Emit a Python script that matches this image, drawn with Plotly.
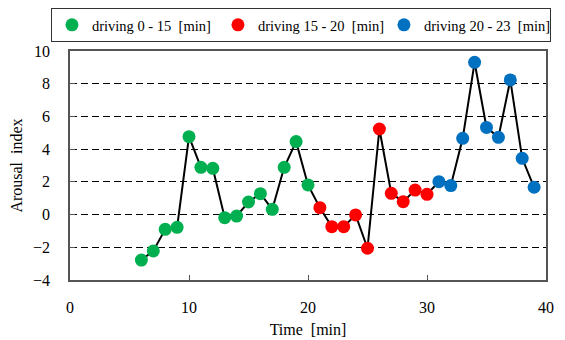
import plotly.graph_objects as go

time_green = [6, 7, 8, 9, 10, 11, 12, 13, 14, 15, 16, 17, 18, 19, 20]
arousal_green = [-2.78, -2.22, -0.9, -0.78, 4.76, 2.89, 2.83, -0.19, -0.09, 0.77, 1.28, 0.32, 2.89, 4.46, 1.81]
time_red = [21, 22, 23, 24, 25, 26, 27, 28, 29, 30]
arousal_red = [0.42, -0.74, -0.74, -0.02, -2.06, 5.23, 1.3, 0.79, 1.5, 1.24]
time_blue = [31, 32, 33, 34, 35, 36, 37, 38, 39]
arousal_blue = [2.01, 1.77, 4.66, 9.31, 5.33, 4.72, 8.23, 3.44, 1.67]

series_names = ["driving 0 - 15\u00a0 [min]", "driving 15 - 20\u00a0 [min]", "driving 20 - 23\u00a0 [min]"]
colors = ["#00B050", "#FF0000", "#0070C0"]

FONT = "Liberation Serif"

fig = go.Figure()
fig.add_trace(go.Scatter(
    x=time_green + time_red + time_blue,
    y=arousal_green + arousal_red + arousal_blue,
    mode="lines", line=dict(color="black", width=2), showlegend=False, hoverinfo="skip"))

for xs, ys, name, c in zip([time_green, time_red, time_blue],
                           [arousal_green, arousal_red, arousal_blue],
                           series_names, colors):
    fig.add_trace(go.Scatter(x=xs, y=ys, mode="markers", name=name,
                             marker=dict(color=c, size=13, line=dict(width=0))))

# page body has an 8px default margin: plot area spans x 70..546, y 51..280 in the window
fig.update_layout(
    width=557, height=332,
    margin=dict(l=62, r=19, t=43, b=60, autoexpand=False),
    paper_bgcolor="white", plot_bgcolor="white",
    font=dict(family=FONT, size=16, color="black"),
    showlegend=True,
    legend=dict(orientation="h", x=-0.04, xanchor="left", y=1.188, yanchor="top",
                bordercolor="#333", borderwidth=1, bgcolor="white",
                font=dict(family=FONT, size=14.5), entrywidth=121, entrywidthmode="pixels",
                tracegroupgap=0),
    xaxis=dict(range=[0, 40], tickvals=[0, 10, 20, 30, 40], showgrid=False,
               zeroline=False, showline=True, linecolor="#555", linewidth=1.5, mirror=True,
               ticks="inside", ticklen=5, tickcolor="#555", ticklabelstandoff=12,
               tickfont=dict(family=FONT, size=16),
               title=dict(text="Time\u00a0 [min]", font=dict(family=FONT, size=16), standoff=9)),
    yaxis=dict(range=[-4, 10], tickvals=[-4, -2, 0, 2, 4, 6, 8, 10],
               showgrid=True, gridcolor="black", griddash="7px,4px", gridwidth=1,
               zeroline=False, showline=True, linecolor="#555", linewidth=1.5, mirror=True,
               ticks="inside", ticklen=5, tickcolor="#555", ticklabelstandoff=15,
               tickfont=dict(family=FONT, size=16),
               title=dict(text="Arousal\u00a0 index", font=dict(family=FONT, size=16), standoff=6)),
)

fig.write_html("out.html")
